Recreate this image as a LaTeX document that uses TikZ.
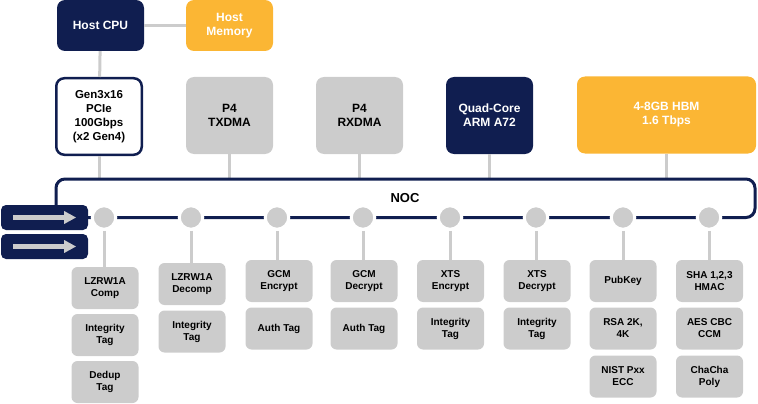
\documentclass[tikz,border=0pt]{standalone}
\usepackage{fontspec}
\setmainfont{Liberation Sans}
\usetikzlibrary{arrows.meta}
\definecolor{navy}{RGB}{16,30,80}
\definecolor{amber}{RGB}{251,182,52}
\definecolor{lgray}{RGB}{204,204,204}
\tikzset{%
	unit/.style      = {rounded corners=8pt, minimum width=87pt, minimum height=77pt,
		align=center, inner sep=2pt, font=\bfseries\fontsize{12}{14}\selectfont},
	navyunit/.style  = {unit, fill=navy, text=white}, % dark block
	amberunit/.style = {unit, fill=amber, text=white}, % memory
	grayunit/.style  = {unit, fill=lgray, text=black}, % dma
	engine/.style    = {rounded corners=6pt, fill=lgray, minimum width=67pt, minimum height=42pt,
		align=center, inner sep=1pt, font=\bfseries\fontsize{10}{12}\selectfont},
	hub/.style       = {circle, fill=lgray, draw=white, line width=3pt, minimum size=23.5pt, inner sep=0pt},
	port/.style      = {rounded corners=5pt, fill=navy, minimum width=87pt, minimum height=25pt, inner sep=0pt},
	link/.style      = {draw=lgray, line width=3pt},
	bus/.style       = {draw=navy, line width=3pt},
	flow/.style      = {draw=lgray, line width=4.5pt, -{Triangle[length=12pt,width=12pt]}}
}
\begin{document}
\begin{tikzpicture}[x=1pt,y=-1pt]
	\useasboundingbox (0,0) rectangle (758,404);
	
	% host side
	\node[navyunit, minimum height=51pt] at (100.5,25.5) (cpu) {Host CPU};
	\node[amberunit, minimum height=51pt] at (229.5,25.5) (mem) {Host\\Memory};
	\node[unit, fill=white, draw=navy, line width=2.5pt, minimum width=85.5pt, minimum height=76.5pt,
		font=\bfseries\fontsize{11.5}{14}\selectfont] at (99,116.5) (pcie) {Gen3x16\\PCIe\\100Gbps\\(x2 Gen4)};
	\node[grayunit] at (229.5,115.5) (txdma) {P4\\TXDMA};
	\node[grayunit] at (359.5,115.5) (rxdma) {P4\\RXDMA};
	\node[navyunit] at (489.5,115.5) (arm) {Quad-Core\\ARM A72};
	\node[amberunit, minimum width=179pt] at (666.5,115) (hbm) {4-8GB HBM\\1.6 Tbps};
	
	% network ports
	\node[port] at (44.5,217.5) (in1) {};
	\node[port] at (44.5,246.5) (in2) {};
	\draw[flow] ([xshift=12pt]in1.west) -- ([xshift=-12pt]in1.east);
	\draw[flow] ([xshift=12pt]in2.west) -- ([xshift=-12pt]in2.east);
	
	\coordinate (noctl) at (56,179);
	\coordinate (nocbr) at (755,217.5);
	
	\draw[link] (cpu) -- (mem);
	\draw[link] (cpu) -- (pcie);
	\foreach \n in {pcie,txdma,rxdma,arm,hbm}
		\draw[link] (\n.south) -- (\n.south |- noctl);
	
	\draw[bus, rounded corners=9pt] (in1.north -| noctl) -- (noctl) -- (noctl -| nocbr) -- (nocbr) -- (in1.east);
	\node[font=\bfseries\fontsize{13}{15}\selectfont] at (405,198) (noc) {NOC};
	
	\foreach \i/\x in {1/104,2/191,3/277,4/363,5/450,6/536,7/623,8/709}
		\node[hub] at (\x,217.5) (hub\i) {};
	
	% offload engines
	\node[engine] at (105,288) (lzc) {LZRW1A\\Comp};
	\node[engine] at (105,335) (itg1) {Integrity\\Tag};
	\node[engine] at (105,382) (dedup) {Dedup\\Tag};
	\node[engine] at (192,284) (lzd) {LZRW1A\\Decomp};
	\node[engine] at (192,331.5) (itg2) {Integrity\\Tag};
	\node[engine] at (279,281) (gcme) {GCM\\Encrypt};
	\node[engine] at (279,328.5) (auth1) {Auth Tag};
	\node[engine] at (364,281) (gcmd) {GCM\\Decrypt};
	\node[engine] at (364,328.5) (auth2) {Auth Tag};
	\node[engine] at (450.5,281) (xtse) {XTS\\Encrypt};
	\node[engine] at (450.5,328.5) (itg3) {Integrity\\Tag};
	\node[engine] at (537,281) (xtsd) {XTS\\Decrypt};
	\node[engine] at (537,328.5) (itg4) {Integrity\\Tag};
	\node[engine] at (623,281) (pub) {PubKey};
	\node[engine] at (623,328.5) (rsa) {RSA 2K,\\4K};
	\node[engine] at (623,376.5) (ecc) {NIST Pxx\\ECC};
	\node[engine] at (709.5,281) (sha) {SHA 1,2,3\\HMAC};
	\node[engine] at (709.5,328.5) (aes) {AES CBC\\CCM};
	\node[engine] at (709.5,376.5) (chacha) {ChaCha\\Poly};
	
	\draw[link] (hub1) -- (hub1 |- lzc.north);
	\draw[link] (hub2) -- (hub2 |- lzd.north);
	\draw[link] (hub3) -- (hub3 |- gcme.north);
	\draw[link] (hub4) -- (hub4 |- gcmd.north);
	\draw[link] (hub5) -- (hub5 |- xtse.north);
	\draw[link] (hub6) -- (hub6 |- xtsd.north);
	\draw[link] (hub7) -- (hub7 |- pub.north);
	\draw[link] (hub8) -- (hub8 |- sha.north);
	
\end{tikzpicture}
\end{document}
